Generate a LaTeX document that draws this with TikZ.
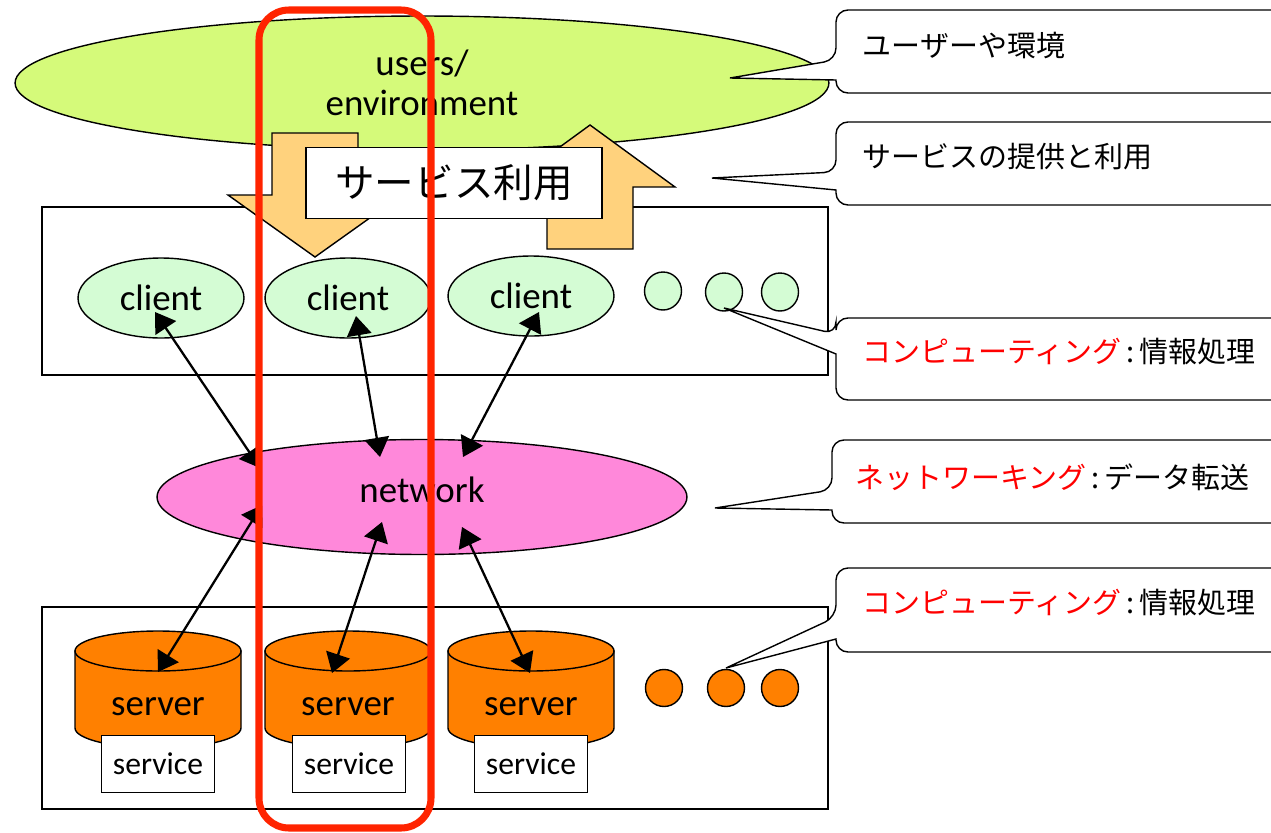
\documentclass[tikz,border=0pt]{standalone}
\usepackage{fontspec}
\setmainfont{Carlito}
\newfontfamily\jp{Noto Sans CJK JP}
\usetikzlibrary{arrows.meta, shapes.geometric}

\definecolor{userfill}{RGB}{213,250,122}
\definecolor{clientfill}{RGB}{212,252,212}
\definecolor{netfill}{RGB}{255,136,218}
\definecolor{serverfill}{RGB}{255,128,0}
\definecolor{arrowfill}{RGB}{255,210,125}
\definecolor{framered}{RGB}{255,36,0}

\begin{document}
\begin{tikzpicture}[x=0.02cm, y=-0.02cm, line width=0.8pt,
  bubble/.style={ellipse, draw, inner sep=0pt},
  client/.style={bubble, fill=clientfill, minimum width=3.32cm, minimum height=1.6cm, font=\fontsize{21}{24}\selectfont},
  smalldot/.style={bubble, minimum width=0.74cm, minimum height=0.76cm},
  service/.style={draw, fill=white, minimum width=2.26cm, minimum height=1.14cm, inner sep=0pt, font=\fontsize{18}{20}\selectfont},
  link/.style={{Triangle[length=11pt,width=14pt]}-{Triangle[length=11pt,width=14pt]}, line width=1.3pt},
  calloutbox/.style={draw, fill=white, line width=0.8pt},
  note/.style={anchor=west, inner sep=0pt, font=\jp\fontsize{16.5}{20}\selectfont},
  bigarrow/.style={draw, fill=arrowfill, line width=0.8pt}]
  \useasboundingbox (0,0) rectangle (1271,832);
  \clip (0,0) rectangle (1271,832);

  % users
  \node[bubble, fill=userfill, minimum width=16.28cm, minimum height=2.68cm, align=center,
        font=\fontsize{21}{23}\selectfont] (users) at (422,83) {users/\\environment};

  % computing / storage layers
  \draw (42,207) rectangle (828,375);
  \draw (42,607) rectangle (828,809);

  % service use
  \draw[bigarrow] (272,133) -- (358,133) -- (358,195) -- (402,195) -- (315,257)
                  -- (228,195) -- (272,195) -- cycle;
  \draw[bigarrow] (547,249) -- (633,249) -- (633,187) -- (675,187) -- (590,125)
                  -- (505,187) -- (547,187) -- cycle;
  \node[draw, fill=white, minimum width=5.92cm, minimum height=1.42cm, inner sep=0pt,
        font=\jp\fontsize{22.5}{26}\selectfont] (use) at (454,183) {サービス利用};

  % clients
  \node[client] (c1) at (161,298) {client};
  \node[client] (c2) at (348,298) {client};
  \node[client] (c3) at (531,296) {client};
  \node[smalldot, fill=clientfill] (cd1) at (663,291) {};
  \node[smalldot, fill=clientfill] (cd2) at (724,292) {};
  \node[smalldot, fill=clientfill] (cd3) at (780,292) {};

  % network
  \node[bubble, fill=netfill, minimum width=10.6cm, minimum height=2.3cm,
        font=\fontsize{21}{24}\selectfont] (net) at (422,497) {\raisebox{8pt}{network}};

  % servers
  \foreach \cx/\nm in {158/s1, 348/s2, 531/s3} {
    \filldraw[fill=serverfill] (\cx-83,651) -- (\cx-83,728)
      arc[start angle=180, end angle=0, x radius=83, y radius=20] -- (\cx+83,651) -- cycle;
    \draw[fill=serverfill] (\cx,651) ellipse [x radius=83, y radius=20];
    \node[font=\fontsize{21}{24}\selectfont] (\nm) at (\cx,707) {server};
  }
  \foreach \cx/\nm in {158/v1, 349/v2, 531/v3}
    \node[service] (\nm) at (\cx,764) {service};
  \node[smalldot, fill=serverfill, minimum height=0.74cm] (sd1) at (664,688) {};
  \node[smalldot, fill=serverfill, minimum height=0.74cm] (sd2) at (726,688) {};
  \node[smalldot, fill=serverfill, minimum height=0.74cm] (sd3) at (780,688) {};

  % links
  \draw[link] ([shift={(-6,14)}]c1.center) -- ([shift={(-162,-29)}]net.center);
  \draw[link] ([shift={(8,18)}]c2.center) -- ([shift={(-42,-40)}]net.center);
  \draw[link] ([shift={(8,16)}]c3.center) -- ([shift={(41,-40)}]net.center);
  \draw[link] ([shift={(0,-35)}]s1.center) -- ([shift={(-160,8)}]net.center);
  \draw[link] ([shift={(-16,-34)}]s2.center) -- ([shift={(-40,25)}]net.center);
  \draw[link] ([shift={(-1,-34)}]s3.center) -- ([shift={(40,30)}]net.center);

  % callouts
  \draw[calloutbox] (836,60) -- (730,78) -- (836,80) [rounded corners=0.24cm]
    -- (836,93) -- (1300,93) -- (1300,10) -- (836,10) -- cycle;
  \node[note] (n1) at (862,45) {ユーザーや環境};
  \draw[calloutbox] (836,172) -- (712,178) -- (836,190) [rounded corners=0.24cm]
    -- (836,205) -- (1300,205) -- (1300,122) -- (836,122) -- cycle;
  \node[note] (n2) at (862,157) {サービスの提供と利用};
  \draw[calloutbox] (836,334) -- ([shift={(0,16)}]cd2.center) -- (836,354) [rounded corners=0.24cm]
    -- (836,400) -- (1300,400) -- (1300,318) -- (836,318) -- cycle;
  \node[note] (n3) at (862,352) {\textcolor{red}{コンピューティング}\,:\,情報処理};
  \draw[calloutbox] (832,490) -- (715,508) -- (832,510) [rounded corners=0.24cm]
    -- (832,523) -- (1300,523) -- (1300,440) -- (832,440) -- cycle;
  \node[note] (n4) at (855,477) {\textcolor{red}{ネットワーキング}\,:\,データ転送};
  \draw[calloutbox] (836,617) -- ([shift={(0,-20)}]sd2.center) -- (836,639) [rounded corners=0.24cm]
    -- (836,652) -- (1300,652) -- (1300,568) -- (836,568) -- cycle;
  \node[note] (n5) at (862,603) {\textcolor{red}{コンピューティング}\,:\,情報処理};

  % highlighted column
  \draw[framered, line width=4pt, rounded corners=0.6cm] (259,10) rectangle (431,828);
\end{tikzpicture}
\end{document}
